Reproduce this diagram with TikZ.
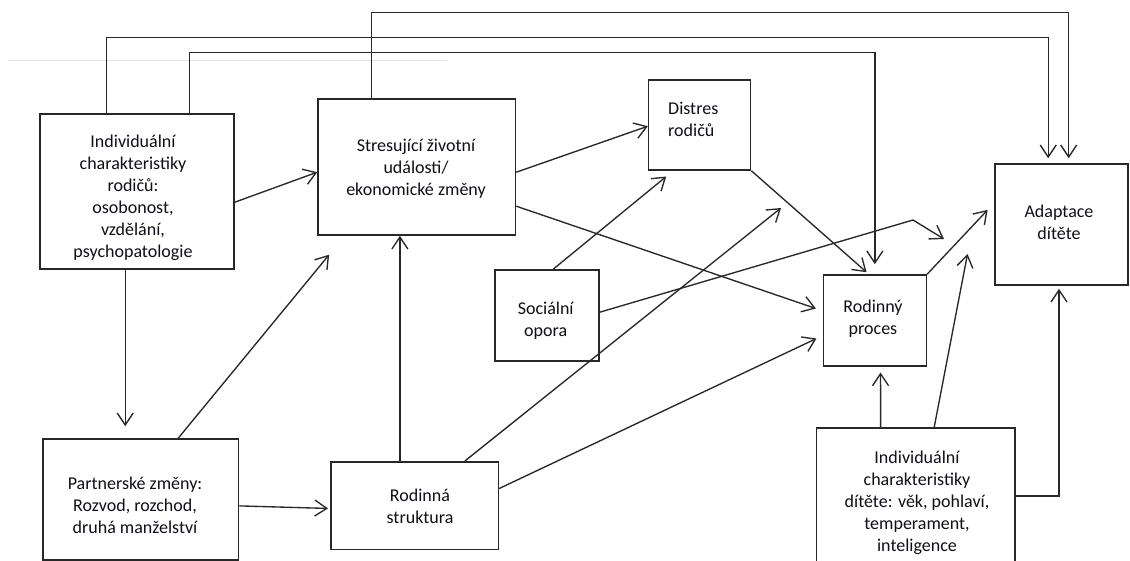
\documentclass[tikz,border=0pt]{standalone}
\usepackage{fontspec}
\setmainfont{Carlito}
\usetikzlibrary{arrows.meta,calc}
\definecolor{lc}{RGB}{40,40,40}
\definecolor{tc}{RGB}{15,15,25}
\begin{document}
\begin{tikzpicture}[x=1pt,y=-1pt,
  box/.style={draw=lc, line width=1.6pt, rectangle, inner sep=0pt},
  txt/.style={align=center, font=\fontsize{18}{22}\selectfont, text=tc, inner sep=0pt},
  arr/.style={draw=lc, line width=1.35pt, line join=miter, -{Straight Barb[length=12pt,width=16pt,line width=1.35pt]}},
  ln/.style={draw=lc, line width=1.35pt}]
\useasboundingbox[fill=white] (0,0) rectangle (1130,561);

% faint artefact line
\draw[gray!22, line width=1pt] (8,61) -- (447,61);

% boxes
\node[box, minimum width=194pt, minimum height=155pt] (ip) at (137,191.5) {};
\node[box, minimum width=197.5pt, minimum height=136pt] (st) at (416.75,167) {};
\node[box, minimum width=102pt, minimum height=90pt] (di) at (699.6,125) {};
\node[box, minimum width=133pt, minimum height=121pt] (ad) at (1061.5,224.5) {};
\node[box, minimum width=104pt, minimum height=91pt] (so) at (547,315.5) {};
\node[box, minimum width=102.7pt, minimum height=91pt] (rp) at (875,320.5) {};
\node[box, minimum width=195.6pt, minimum height=121pt] (pa) at (140.8,499.5) {};
\node[box, minimum width=167.6pt, minimum height=87.6pt] (rs) at (414.6,505.5) {};
\node[box, minimum width=198.2pt, minimum height=150pt] (ch) at (915.6,503) {};

% texts
\node[txt] (ipt) at (133,198) {Individuální\\charakteristiky\\rodičů:\\osobonost,\\vzdělání,\\psychopatologie};
\node[txt] (stt) at (416,169) {Stresující životní\\události/\\ekonomické změny};
\node[txt, align=left, anchor=west] (dit) at (668,119) {Distres\\rodičů};
\node[txt] (adt) at (1059,222.5) {Adaptace\\dítěte};
\node[txt] (sot) at (545.7,321) {Sociální\\opora};
\node[txt] (rpt) at (873,319) {Rodinný\\proces};
\node[txt] (pat) at (135,505.5) {Partnerské změny:\\Rozvod, rozchod,\\druhá manželství};
\node[txt] (rst) at (420,506) {Rodinná\\struktura};
\node[txt] (cht) at (917,502.5) {Individuální\\charakteristiky\\dítěte: věk, pohlaví,\\temperament,\\inteligence};

% free ends
\coordinate (kink) at (913,220);
\coordinate (soend) at (944,239);
\coordinate (rsend) at (781,208);
\coordinate (chend) at (967.5,254);

% top rails
\draw[arr, shorten >=5pt] ([xshift=67pt]ip.north west) -- ++(0,-76) -| ([xshift=54pt]ad.north west);
\draw[arr, shorten >=10pt] ([xshift=150pt]ip.north west) -- ++(0,-61) -| ([xshift=52pt]rp.north west);
\draw[arr, shorten >=5pt] ([xshift=54pt]st.north west) -- ++(0,-86) -| ([xshift=74.5pt]ad.north west);

% other connectors
\draw[arr] ([yshift=-89pt]ip.north east) -- ([yshift=-74pt]st.north west);
\draw[arr] ([yshift=-74pt]st.north east) -- ([yshift=-47pt]di.north west);
\draw[arr, shorten >=7.4pt] ([yshift=-108pt]st.north east) -- ([yshift=-36.7pt]rp.north west);
\draw[arr, shorten >=3pt] (di.south east) -- ([xshift=46pt]rp.north west);
\draw[arr, shorten >=9pt] ([xshift=59pt]so.north west) -- ([xshift=25.4pt]di.south west);
\draw[arr] ([yshift=-43pt]so.north east) -- (kink) -- (soend);
\draw[arr, shorten >=9.6pt] (rp.north east) -- ([yshift=-39.7pt]ad.north west);
\draw[arr, shorten >=24.5pt] ([xshift=136pt]pa.north west) -- ([xshift=27.5pt]st.south west);
\draw[arr, shorten >=12pt] ([xshift=86pt]ip.south west) -- ([xshift=83pt]pa.north west);
\draw[arr, shorten >=2pt] ([yshift=-67.7pt]pa.north east) -- ([yshift=-47.6pt]rs.north west);
\draw[arr] ([xshift=69.9pt]rs.north west) -- ([xshift=82.7pt]st.south west);
\draw[arr] ([xshift=135pt]rs.north west) -- (rsend);
\draw[arr, shorten >=7.1pt] ([yshift=-27.6pt]rs.north east) -- ([yshift=-61.3pt]rp.north west);
\draw[arr, shorten >=5.7pt] ([xshift=64.9pt]ch.north west) -- ([xshift=57.7pt]rp.south west);
\draw[arr] ([xshift=118.5pt]ch.north west) -- (chend);
\draw[arr, shorten >=3pt] ([yshift=-68.7pt]ch.north east) -| ([xshift=64.8pt]ad.south west);
\end{tikzpicture}
\end{document}
